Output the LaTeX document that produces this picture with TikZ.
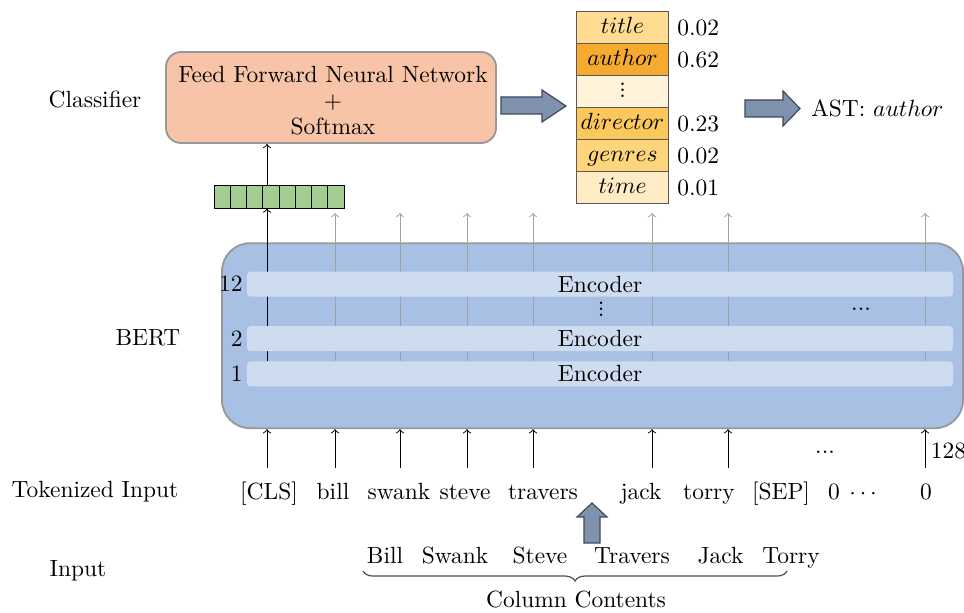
\documentclass[tikz,border=0pt]{standalone}
\usepackage{amsmath}
\usepackage{amssymb}
\usetikzlibrary{decorations.pathreplacing}

\definecolor{ffnnfill}{RGB}{248,196,167}
\definecolor{vecfill}{RGB}{163,206,145}
\definecolor{bertfill}{RGB}{167,192,228}
\definecolor{encfill}{RGB}{206,220,239}
\definecolor{fatfill}{RGB}{126,146,173}
\definecolor{fatline}{RGB}{62,72,92}
\definecolor{clsA}{RGB}{255,220,145}
\definecolor{clsB}{RGB}{247,170,48}
\definecolor{clsC}{RGB}{255,243,218}
\definecolor{clsD}{RGB}{252,200,92}
\definecolor{clsE}{RGB}{254,213,122}
\definecolor{clsF}{RGB}{255,235,196}
\newcommand{\tightvdots}{\vbox{\baselineskip2.6pt\lineskiplimit0pt\hbox{.}\hbox{.}\hbox{.}}}

\begin{document}
\begin{tikzpicture}[x=0.015cm, y=-0.015cm,
  roundbox/.style={draw=black!40, line width=0.8pt, align=center},
  vcell/.style={draw=black, line width=0.4pt, fill=vecfill, minimum width=0.244cm, minimum height=0.345cm, inner sep=0pt},
  encbox/.style={fill=encfill, rounded corners=1.5pt, minimum width=10.59cm, minimum height=0.375cm, inner sep=0pt},
  classcell/.style={draw=black!65, line width=0.5pt, minimum width=1.38cm, minimum height=0.48cm, inner sep=0pt, text height=1.5ex, text depth=.25ex},
  prob/.style={anchor=west},
  tok/.style={anchor=base},
  fat/.style={draw=fatline, fill=fatfill, line width=0.5pt},
  colg/.style={->, black!37}]
\useasboundingbox (0,0) rectangle (964,613);

\node (classifier) at (95,100) {Classifier};
\node (bertlbl) at (148,338) {BERT};
\node (toklbl) [anchor=base] at (95,497.5) {Tokenized Input};
\node (inlbl) [anchor=base] at (78,576.5) {Input};

\node (ffnn) [roundbox, fill=ffnnfill, rounded corners=6.4pt, minimum width=4.95cm, minimum height=1.365cm] at (331,97.5) {};
\node (ffnntxt) [align=center] at (333,100.5) {Feed Forward Neural Network\\[-1pt]$+$\\[-1pt]Softmax};

\foreach \i in {1,...,8}
  \node (v\i) [vcell] at (206+16.25*\i, 196.5) {};

\foreach \name/\txt/\clr [count=\i] in {title/$title$/clsA, author/$author$/clsB, dots/\tightvdots/clsC, director/$director$/clsD, genres/$genres$/clsE, time/$time$/clsF}
  \node (\name) [classcell, fill=\clr] at (622.5, 32*\i-4.5) {\txt};
\foreach \name/\p in {title/0.02, author/0.62, director/0.23, genres/0.02, time/0.01}
  \node (p\name) [prob] at (\name.east) {\p};

\draw[fat] (501,97) -- (542,97) -- (542,90) -- (566,106) -- (542,122) -- (542,114) -- (501,114) -- cycle;
\draw[fat] (745,100) -- (783,100) -- (783,91) -- (800,108.5) -- (783,126) -- (783,117) -- (745,117) -- cycle;
\node (ast) [anchor=west] at (803,108.5) {AST: $author$};

\node (bert) [roundbox, fill=bertfill, rounded corners=12pt, minimum width=11.115cm, minimum height=2.775cm] at (592.5,335.7) {};

\foreach \x [count=\i] in {267,335,400,467,533,652,728,925} {
  \coordinate (in\i) at (\x,468);
  \coordinate (up\i) at (\x,361);
  \coordinate (top\i) at (\x,213);
}
\foreach \i in {2,...,8}
  \draw[colg] (up\i) -- (top\i);
\draw[->] (up1) -- (up1 |- v4.south);
\draw[->] (up1 |- v4.north) -- (up1 |- ffnn.south);

\node (enc12) [encbox] at (600,284.2) {Encoder};
\node (enc2) [encbox] at (600,338.7) {Encoder};
\node (enc1) [encbox] at (600,373.9) {Encoder};
\node (n12) [anchor=east, inner sep=1.5pt] at (enc12.west) {12};
\node (n2) [anchor=east, inner sep=1.5pt] at (enc2.west) {2};
\node (n1) [anchor=east, inner sep=1.5pt] at (enc1.west) {1};
\node (vd) at (601,309) {\tightvdots};
\node (hd) at (861,309) {...};

\foreach \i in {1,...,8}
  \draw[->] (in\i) -- (in\i |- bert.south);
\node (cd) at (825,452) {...};
\node (len) [anchor=west, inner sep=1pt] at (928,451) {128};

\foreach \x/\t [count=\i] in {269/{[CLS]}, 333/bill, 399/swank, 465/steve, 543/travers, 641/jack, 709/torry, 781/{[SEP]}, 834/0, 865/$\cdots$, 926/0}
  \node (t\i) [tok] at (\x,500) {\t};

\draw[fat] (584,543) -- (584,517) -- (577,517) -- (592,503) -- (607,517) -- (600,517) -- (600,543) -- cycle;

\foreach \x/\w [count=\i] in {385/Bill, 455/Swank, 540/Steve, 632/Travers, 720.5/Jack, 791/Torry}
  \node (w\i) [tok] at (\x,564) {\w};

\coordinate (bl) at (363,571);
\coordinate (br) at (787,571);
\draw[black!70, line width=0.5pt, decorate, decoration={brace, mirror, amplitude=4.3pt}] (bl) -- (br);
\node (colc) at (576,599) {Column Contents};
\end{tikzpicture}
\end{document}
